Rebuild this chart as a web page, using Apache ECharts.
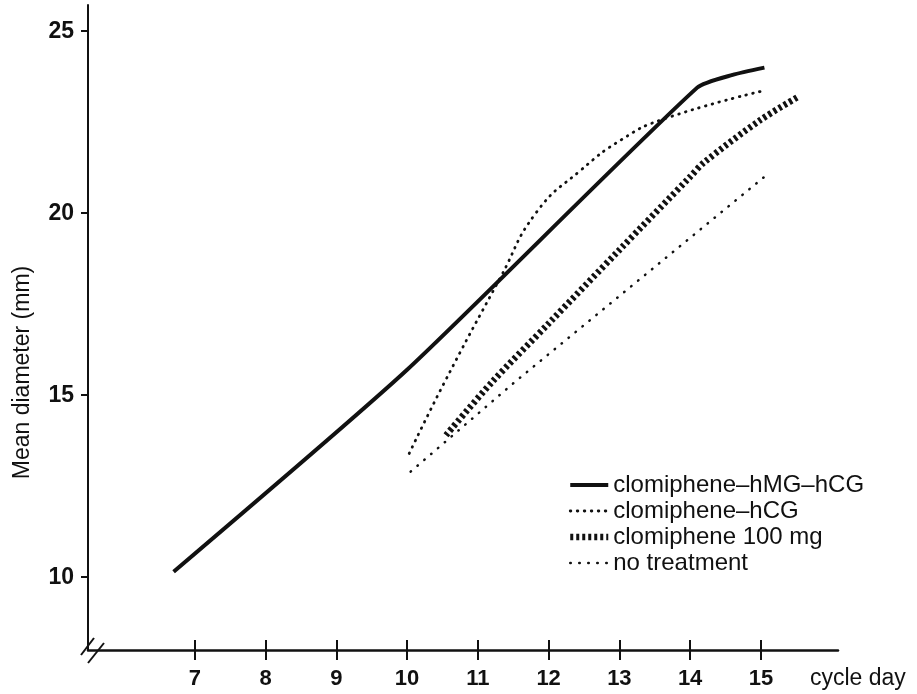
<!DOCTYPE html>
<html>
<head>
<meta charset="utf-8">
<script src="https://cdn.jsdelivr.net/npm/echarts@6/dist/echarts.min.js"></script>
<style>
html, body { margin: 0; padding: 0; background: #fff; }
#chart { width: 917px; height: 694px; }
</style>
</head>
<body>
<div id="chart"></div>
<script>
// tick labels
var dayTicks = [7, 8, 9, 10, 11, 12, 13, 14, 15]
var mmTicks = [10, 15, 20, 25]

// clomiphene-hMG-hCG
var hmgDays = [6.7, 10.0, 14.1, 14.6, 15.05]
var hmgMm = [10.15, 15.7, 23.45, 23.8, 24.0]

// clomiphene-hCG
var hcgDays = [10.03, 10.53, 11.31, 11.83, 12.46, 13.03, 13.6, 15.05]
var hcgMm = [13.4, 15.36, 18.2, 20.03, 21.19, 22.02, 22.57, 23.37]

// clomiphene 100 mg
var clomDays = [10.55, 11.2, 12.0, 13.0, 14.0, 14.2, 15.0, 15.53]
var clomMm = [13.9, 15.36, 16.97, 18.99, 21.0, 21.4, 22.57, 23.2]

// no treatment
var noneDays = [10.05, 11.52, 15.05]
var noneMm = [12.9, 15.36, 21.0]

function pairs (xs, ys) {
  var out = []
  for (var i = 0; i < xs.length; i++) out.push([xs[i], ys[i]])
  return out
}

var ink = '#111'
var font = '"Liberation Sans", Arial, sans-serif'

var styles = {
  hmg: { color: ink, width: 4 },
  hcg: { color: ink, width: 2.8, type: [0.6, 6.4], cap: 'round' },
  clom: { color: ink, width: 6.5, type: [3, 3] },
  none: { color: ink, width: 2.5, type: [0.5, 8.5], cap: 'round' }
}
var names = ['clomiphene–hMG–hCG', 'clomiphene–hCG', 'clomiphene 100 mg', 'no treatment']
var keys = ['hmg', 'hcg', 'clom', 'none']

var myChart = echarts.init(document.getElementById('chart'))
var option = {
  backgroundColor: '#fff',
  animation: false,
  textStyle: { fontFamily: font, color: ink },
  grid: { left: 88, right: 79, top: 5, bottom: 44 },
  legend: {
    orient: 'vertical',
    left: 562,
    top: 467,
    itemWidth: 38,
    itemHeight: 10,
    itemGap: 0,
    itemStyle: { opacity: 0 },
    textStyle: { fontSize: 24, color: ink, lineHeight: 26, fontFamily: font },
    data: names.map(function (n, i) {
      return { name: n, lineStyle: styles[keys[i]], itemStyle: { opacity: 0 } }
    })
  },
  xAxis: [{
    type: 'value',
    min: 5.49,
    max: 16.09,
    name: 'cycle day',
    nameLocation: 'end',
    nameGap: -28,
    nameTextStyle: { fontSize: 23, color: ink, align: 'left', verticalAlign: 'top', padding: [17, 0, 0, 0] },
    axisLine: { lineStyle: { color: ink, width: 2.5 } },
    axisTick: { show: true, length: 10, customValues: dayTicks, lineStyle: { color: ink, width: 2 } },
    axisLabel: { customValues: dayTicks, margin: 18, fontSize: 22, fontWeight: 'bold', color: ink },
    splitLine: { show: false }
  }, {
    // upper half of the crossing ticks
    type: 'value',
    position: 'bottom',
    min: 5.49,
    max: 16.09,
    axisLine: { show: false },
    axisTick: { show: true, inside: true, length: 10, customValues: dayTicks, lineStyle: { color: ink, width: 2 } },
    axisLabel: { show: false },
    splitLine: { show: false }
  }],
  yAxis: {
    type: 'value',
    min: 8,
    max: 25.72,
    name: 'Mean diameter (mm)',
    nameLocation: 'middle',
    nameGap: 54,
    nameTextStyle: { fontSize: 23, color: ink, padding: [0, 90, 0, 0] },
    axisLine: { show: true, lineStyle: { color: ink, width: 2 } },
    axisTick: { show: true, length: 7, customValues: mmTicks, lineStyle: { color: ink, width: 2 } },
    axisLabel: { customValues: mmTicks, margin: 14, fontSize: 23, fontWeight: 'bold', color: ink, padding: [0, 0, 8, 0] },
    splitLine: { show: false }
  },
  series: [{
    name: names[0],
    type: 'line',
    symbol: 'none',
    smooth: 0.2,
    data: pairs(hmgDays, hmgMm),
    lineStyle: styles.hmg,
    itemStyle: { color: ink }
  }, {
    name: names[1],
    type: 'line',
    symbol: 'none',
    smooth: 0.5,
    data: pairs(hcgDays, hcgMm),
    lineStyle: styles.hcg,
    itemStyle: { color: ink }
  }, {
    name: names[2],
    type: 'line',
    symbol: 'none',
    smooth: 0.3,
    data: pairs(clomDays, clomMm),
    lineStyle: styles.clom,
    itemStyle: { color: ink }
  }, {
    name: names[3],
    type: 'line',
    symbol: 'none',
    data: pairs(noneDays, noneMm),
    lineStyle: styles.none,
    itemStyle: { color: ink }
  }],
  graphic: [{
    // axis break marks
    type: 'line',
    shape: { x1: 81, y1: 655, x2: 94, y2: 638 },
    style: { stroke: ink, lineWidth: 2 }
  }, {
    type: 'line',
    shape: { x1: 88, y1: 663, x2: 104, y2: 643 },
    style: { stroke: ink, lineWidth: 2 }
  }]
}
myChart.setOption(option)
</script>
</body>
</html>
